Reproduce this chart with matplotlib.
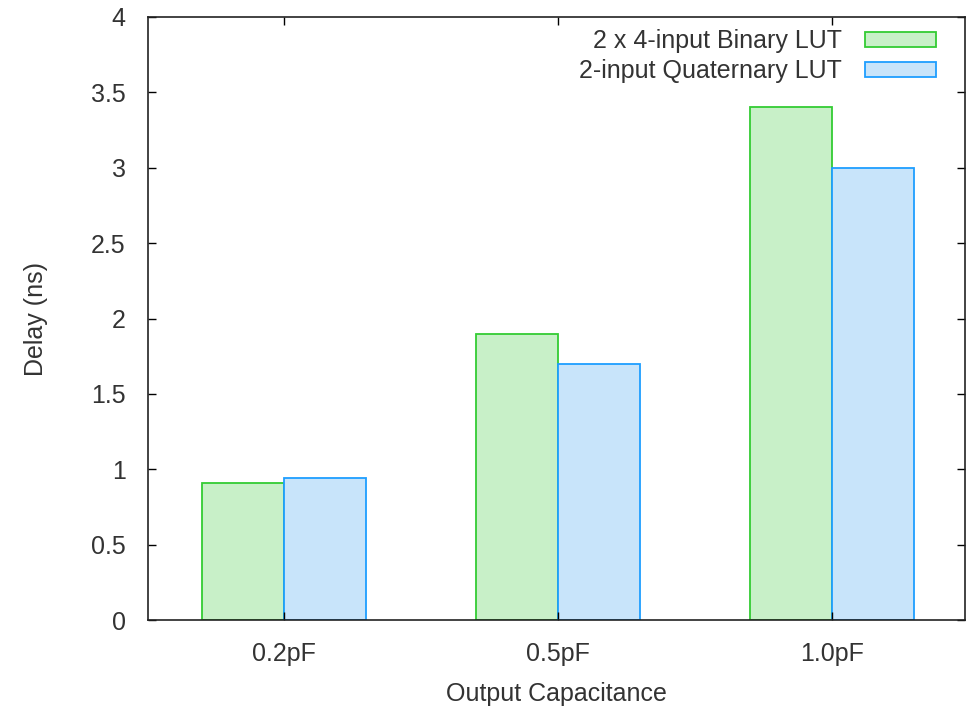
import numpy as np
import matplotlib.pyplot as plt

plt.rcParams['font.family'] = ['Liberation Sans', 'DejaVu Sans']

categories = ['0.2pF', '0.5pF', '1.0pF']
binary_lut = [0.91, 1.90, 3.40]
quaternary_lut = [0.94, 1.70, 3.00]
labels = ['2 x 4-input Binary LUT', '2-input Quaternary LUT']

fig = plt.figure(figsize=(9.68, 7.09), dpi=100)
ax = fig.add_axes([148 / 968, 1 - 620 / 709, (965 - 148) / 968, (620 - 17) / 709])

x = np.arange(len(categories))
w = 0.3
ax.bar(x - w / 2, binary_lut, w, color='#c8f0c8', edgecolor='#33cc33', lw=1.3,
       label=labels[0])
ax.bar(x + w / 2, quaternary_lut, w, color='#c8e4fa', edgecolor='#1e9eff', lw=1.3,
       label=labels[1])

fs = 18
tc = '#333333'
ax.set_xlim(-0.496, 2.485)
ax.set_ylim(0, 4)
ax.set_xticks(x)
ax.set_xticklabels(categories)
ax.set_yticks(np.arange(0, 4.01, 0.5))
ax.set_yticklabels(['0', '0.5', '1', '1.5', '2', '2.5', '3', '3.5', '4'])
ax.tick_params(direction='in', length=6, width=1, top=True, right=True,
               labelsize=fs, labelcolor=tc, pad=16)
for s in ax.spines.values():
    s.set_linewidth(1.2)
    s.set_color('#222222')

ax.set_xlabel('Output Capacitance', fontsize=fs, color=tc)
ax.set_ylabel('Delay (ns)', fontsize=fs, color=tc)
ax.xaxis.set_label_coords(0.5, -0.103)
ax.yaxis.set_label_coords(-0.122, 0.5)

leg = ax.legend(loc='upper right', bbox_to_anchor=(0.977, 0.996), borderaxespad=0,
                markerfirst=False, frameon=False, fontsize=fs,
                handlelength=2.84, handleheight=0.56, handletextpad=0.92,
                labelspacing=0.24)
for t in leg.get_texts():
    t.set_color(tc)

plt.savefig('out.png', dpi=100, facecolor='white')
